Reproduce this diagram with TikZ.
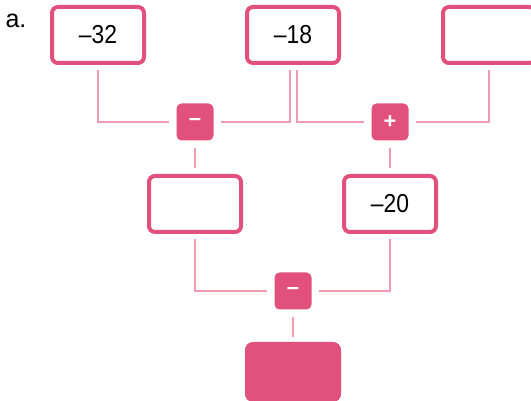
\documentclass[tikz,border=0pt]{standalone}
\usepackage{fontspec}
\usepackage{xcolor}
\usepackage{tikz}
\setmainfont{Liberation Sans}
\newfontfamily\boxfont[FakeStretch=0.88]{Liberation Sans}
\definecolor{boxpink}{HTML}{E2507D}
\definecolor{linkpink}{HTML}{F29AB3}

\begin{document}
\begin{tikzpicture}[x=1pt, y=-1pt,
    box/.style={shape=rectangle, draw=boxpink, line width=4pt, rounded corners=6pt,
        minimum width=92pt, minimum height=56pt, font=\boxfont\fontsize{26}{26}\selectfont},
    opbox/.style={shape=rectangle, fill=boxpink, rounded corners=5pt, text=white,
        minimum size=37pt, inner sep=0pt, font=\bfseries\fontsize{22}{22}\selectfont},
    link/.style={draw=linkpink, line width=2pt, shorten <=5pt, shorten >=7pt}]
    \useasboundingbox (0, 0) rectangle (531, 401);

    \node (lab) at (16, 21) {\fontsize{25}{25}\selectfont a.};

    \node[box] (t1) at (98, 35) {–32};
    \node[box] (t2) at (293, 35) {–18};
    \node[box] (t3) at (489, 35) {};
    \node[box] (m1) at (195, 204) {};
    \node[box] (m2) at (390, 204) {–20};
    \node[box, fill=boxpink, draw=boxpink] (res) at (293, 372) {};

    \node[opbox] (o1) at (195, 122) {–};
    \node[opbox] (o2) at (390, 122) {+};
    \node[opbox] (o3) at (293, 291) {–};

    \draw [link] (t1.south) |- (o1.west);
    \draw [link] ([xshift=-3.5pt]t2.south) |- (o1.east);
    \draw [link] ([xshift=3.5pt]t2.south) |- (o2.west);
    \draw [link] (t3.south) |- (o2.east);
    \draw [link, shorten <=7pt, shorten >=6pt] (o1.south) -- (m1.north);
    \draw [link, shorten <=7pt, shorten >=6pt] (o2.south) -- (m2.north);
    \draw [link] (m1.south) |- (o3.west);
    \draw [link] (m2.south) |- (o3.east);
    \draw [link, shorten <=7pt, shorten >=5pt] (o3.south) -- (res.north);
\end{tikzpicture}
\end{document}
